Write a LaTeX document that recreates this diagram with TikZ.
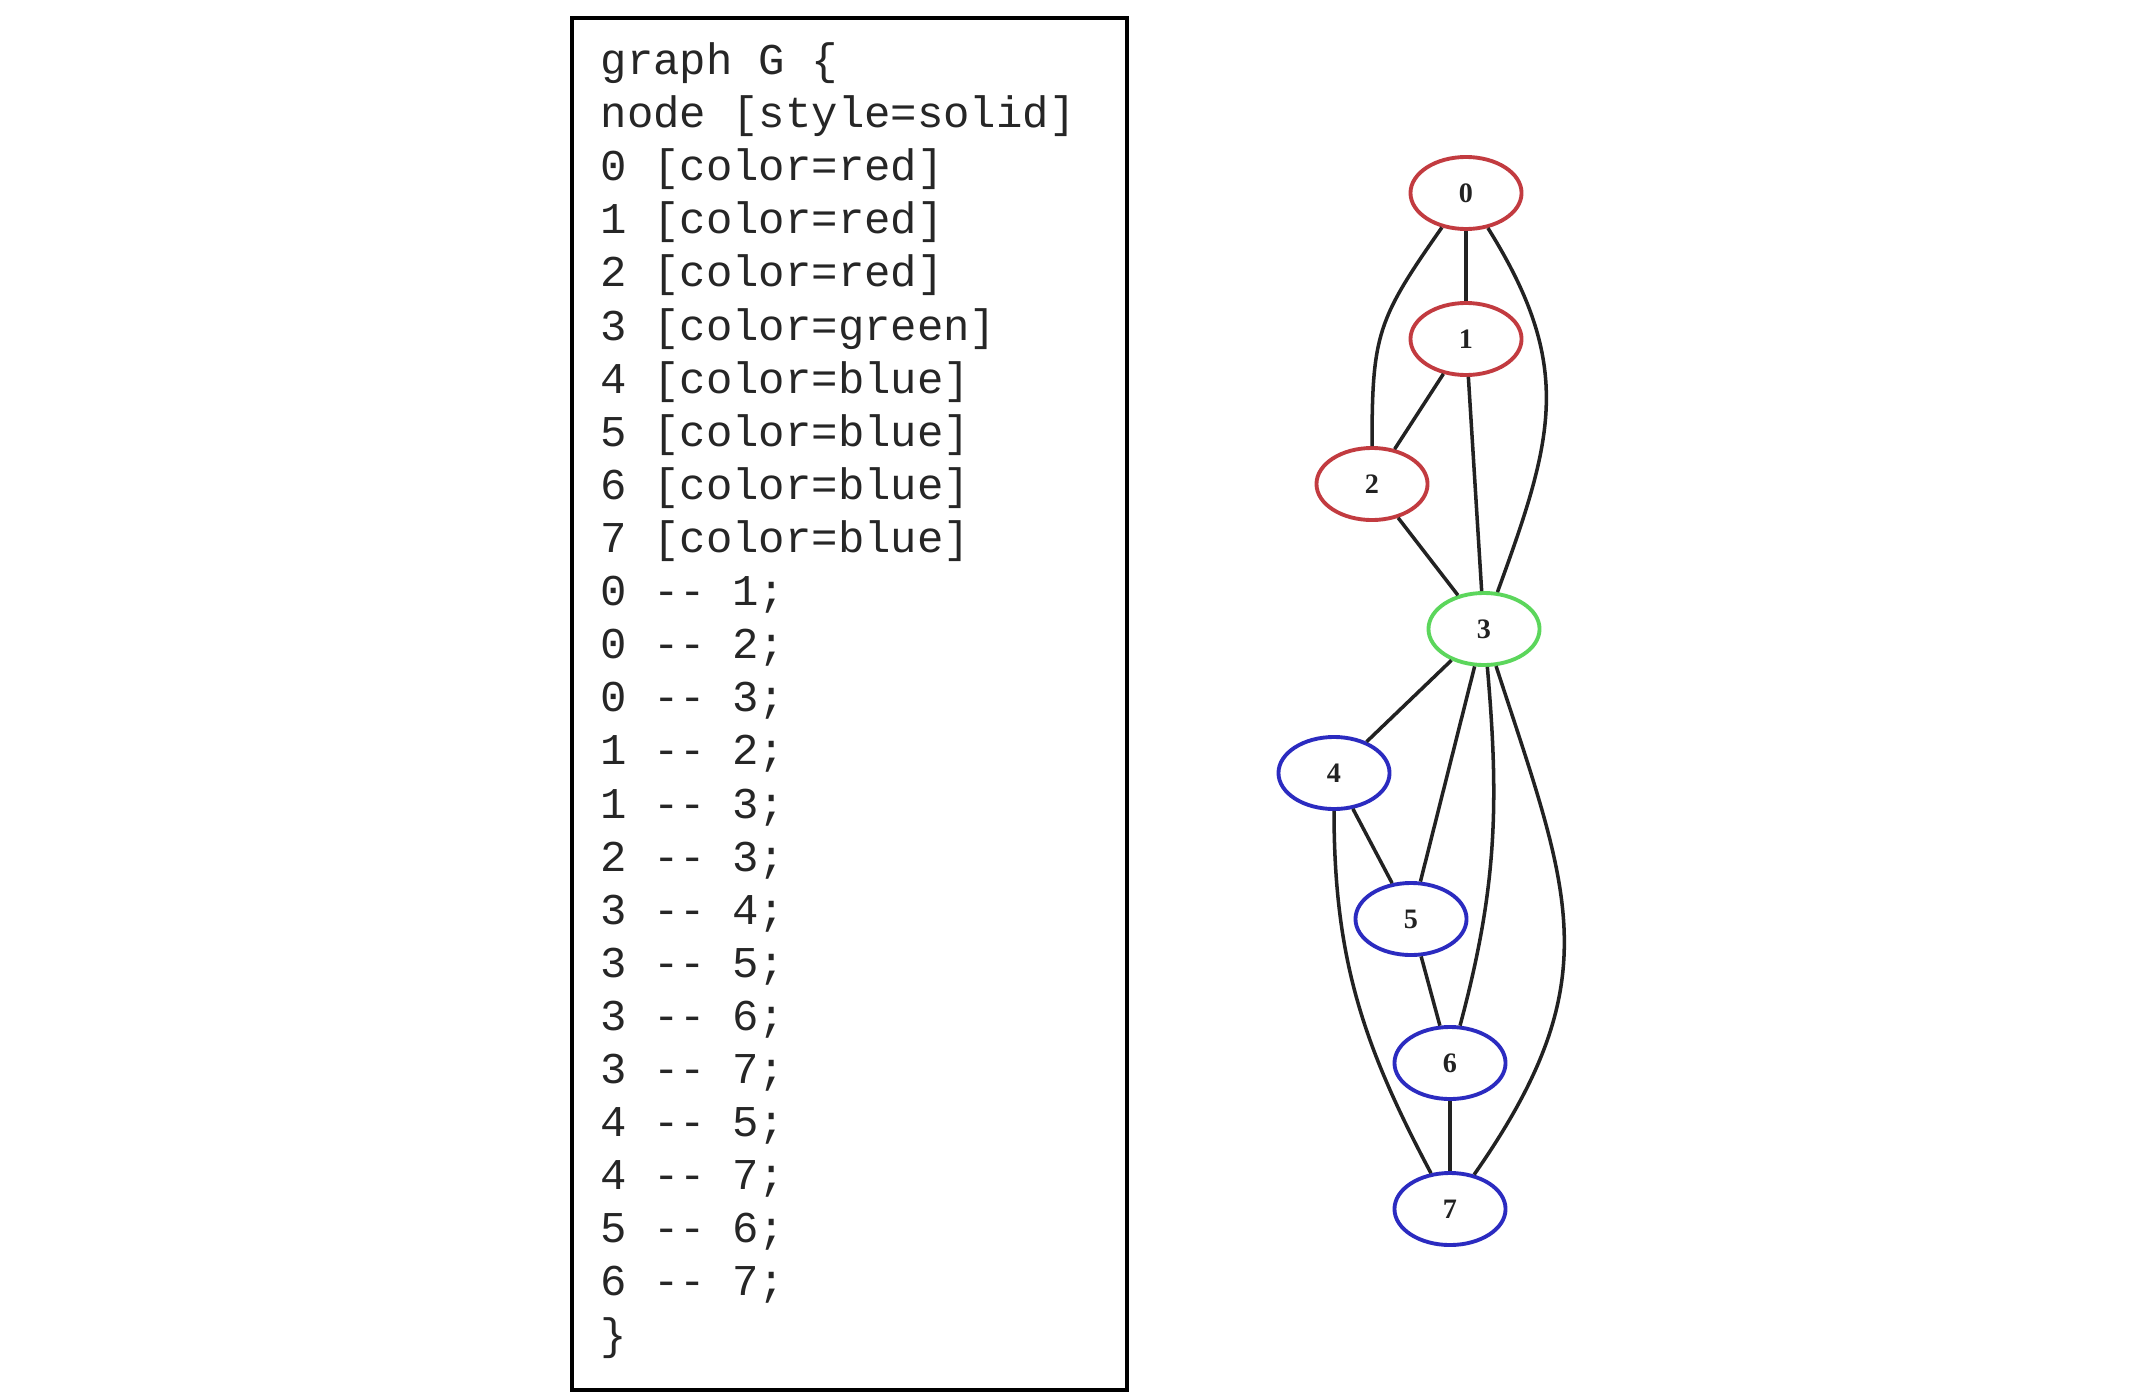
\documentclass[tikz,border=0pt]{standalone}
\usepackage{fontspec}
\setmainfont{Liberation Serif}
\setmonofont{Liberation Mono}
\usetikzlibrary{shapes.geometric}
\definecolor{dotInk}{HTML}{222222}
\definecolor{dotRed}{HTML}{C23B40}
\definecolor{dotGreen}{HTML}{5CD65C}
\definecolor{dotBlue}{HTML}{2B2BC0}
\definecolor{codeInk}{HTML}{262626}
\tikzset{
  dot node/.style={ellipse, draw, line width=1.1pt, fill=white,
    minimum width=1.11cm, minimum height=0.72cm, inner sep=0pt,
    font=\fontsize{8}{9}\selectfont\bfseries, text=dotInk},
  dot red/.style={dot node, draw=dotRed},
  dot green/.style={dot node, draw=dotGreen},
  dot blue/.style={dot node, draw=dotBlue},
  dot edge/.style={draw=dotInk, line width=1pt},
  code box/.style={draw=black, line width=1pt},
  code text/.style={align=left, inner sep=0pt, text=codeInk,
    font=\fontsize{12.5}{15.1}\selectfont\ttfamily}
}
\begin{document}
\begin{tikzpicture}[x=0.01cm,y=0.01cm]
  \useasboundingbox (0,0) rectangle (2134,-1394);
  % the dot source
  \draw[code box] (572,-18) rectangle (1127,-1390);
  \node[code text, anchor=base west] (code) at (600,-1349) {graph G \{\\
    node [style=solid]\\
    0 [color=red]\\
    1 [color=red]\\
    2 [color=red]\\
    3 [color=green]\\
    4 [color=blue]\\
    5 [color=blue]\\
    6 [color=blue]\\
    7 [color=blue]\\
    0 -{}- 1;\\
    0 -{}- 2;\\
    0 -{}- 3;\\
    1 -{}- 2;\\
    1 -{}- 3;\\
    2 -{}- 3;\\
    3 -{}- 4;\\
    3 -{}- 5;\\
    3 -{}- 6;\\
    3 -{}- 7;\\
    4 -{}- 5;\\
    4 -{}- 7;\\
    5 -{}- 6;\\
    6 -{}- 7;\\
    \}};
  % the rendered graph
  \node[dot red]   (n0) at (1466,-193)  {0};
  \node[dot red]   (n1) at (1466,-339)  {1};
  \node[dot red]   (n2) at (1372,-484)  {2};
  \node[dot green] (n3) at (1484,-629)  {3};
  \node[dot blue]  (n4) at (1334,-773)  {4};
  \node[dot blue]  (n5) at (1411,-919)  {5};
  \node[dot blue]  (n6) at (1450,-1063) {6};
  \node[dot blue]  (n7) at (1450,-1209) {7};
  \draw[dot edge] (n0) -- (n1);
  \draw[dot edge] (n0) to[out=-125, in=90, looseness=1.25] (n2);
  \draw[dot edge] (n0) to[out=-58, in=70, looseness=1.15] (n3);
  \draw[dot edge] (n1) -- (n2);
  \draw[dot edge] (n1) -- (n3);
  \draw[dot edge] (n2) -- (n3);
  \draw[dot edge] (n3) -- (n4);
  \draw[dot edge] (n3) -- (n5);
  \draw[dot edge] (n3) to[out=-85, in=75] (n6);
  \draw[dot edge] (n3) to[out=-72, in=55, looseness=1.2] (n7);
  \draw[dot edge] (n4) -- (n5);
  \draw[dot edge] (n4) to[out=-90, in=118] (n7);
  \draw[dot edge] (n5) -- (n6);
  \draw[dot edge] (n6) -- (n7);
\end{tikzpicture}
\end{document}
